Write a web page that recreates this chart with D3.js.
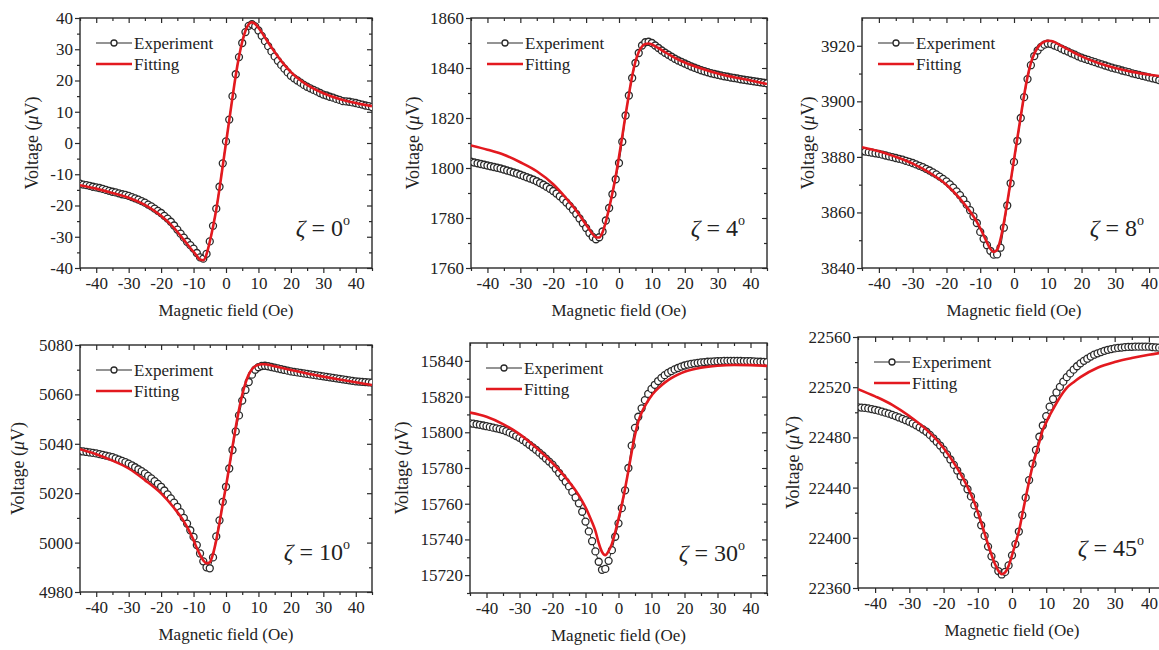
<!DOCTYPE html>
<html>
<head>
<meta charset="utf-8">
<script src="https://cdn.jsdelivr.net/npm/d3@7/dist/d3.min.js"></script>
<style>
body { margin: 0; background: #fff; }
svg text { font-family: "Liberation Serif", "DejaVu Serif", serif; fill: #222; }
</style>
</head>
<body>
<svg id="chart" width="1159" height="650"></svg>
<script>
// field grid of the measurement (Oe), one point per Oe
var expField = d3.range(-45, 46);
var fitField = [-45,-40,-35,-30,-25,-20,-16,-13,-11,-10,-9,-8,-7,-6,-5,-4,-3,-2,-1,0,1,2,3,4,5,6,7,8,9,10,11,12,14,16,18,20,25,30,35,40,45];
var xTicks = [-40,-30,-20,-10,0,10,20,30,40];
var xMinor = [-45,-35,-25,-15,-5,5,15,25,35,45];

// zeta = 0
var exp0 = [-13.0,-13.3,-13.5,-13.7,-14.0,-14.2,-14.4,-14.7,-15.0,-15.3,-15.6,-15.8,-16.1,-16.4,-16.6,-16.9,-17.3,-17.7,-18.1,-18.6,-19.1,-19.7,-20.3,-21.0,-21.7,-22.4,-23.3,-24.2,-25.2,-26.4,-27.7,-29.0,-30.3,-31.6,-32.7,-33.8,-35.2,-36.6,-37.0,-35.5,-31.5,-26.5,-21.0,-14.0,-6.5,
  0.5,7.5,15.0,22.0,27.5,32.0,35.5,37.5,38.0,37.3,36.0,34.3,32.6,31.0,29.3,27.7,26.3,25.0,23.8,22.6,21.5,20.7,20.0,19.3,18.6,18.0,17.5,17.0,16.5,16.0,15.5,15.2,14.8,14.5,14.1,13.8,13.4,13.3,13.2,13.0,12.8,12.5,12.3,12.0,11.8,11.5];
var fit0 = [-13.5,-14.6,-16.0,-17.5,-19.8,-23.3,-27.2,-31.0,-33.6,-34.8,-36.1,-37.3,-37.5,-35.6,-31.6,-26.8,-21.3,-14.6,-7.3,0,7.3,14.6,21.6,27.6,32.4,35.9,38.0,38.6,38.1,36.9,35.4,33.8,30.6,27.7,25.0,22.7,18.6,15.9,14.1,12.8,11.8];
var yTicks0 = [-40,-30,-20,-10,0,10,20,30,40];

// zeta = 4
var exp1 = [1802.5,1802.2,1801.9,1801.6,1801.3,1801.0,1800.7,1800.4,1800.1,1799.8,1799.4,1799.0,1798.6,1798.2,1797.8,1797.3,1796.8,1796.3,1795.8,1795.3,1794.7,1794.0,1793.3,1792.5,1791.7,1790.8,1789.8,1788.7,1787.5,1786.2,1784.8,1783.3,1781.6,1779.8,1777.9,1776.0,1774.0,1772.4,1771.5,1772.3,1774.6,1779.0,1784.0,1789.5,1795.5,
  1802.0,1810.5,1821.0,1829.0,1836.0,1842.0,1846.0,1849.0,1850.3,1850.5,1850.0,1849.0,1848.0,1847.0,1846.1,1845.3,1844.5,1843.7,1843.0,1842.4,1841.8,1841.2,1840.6,1840.1,1839.6,1839.1,1838.7,1838.3,1837.9,1837.6,1837.3,1837.0,1836.7,1836.5,1836.2,1836.0,1835.8,1835.5,1835.3,1835.1,1834.9,1834.7,1834.5,1834.3,1834.1,1833.9,1833.7];
var fit1 = [1809.0,1807.3,1805.3,1802.3,1798.7,1793.5,1787.8,1783.0,1779.2,1777.3,1775.4,1773.6,1772.3,1772.2,1774.3,1778.5,1784.0,1790.0,1796.7,1804.5,1812.7,1821.3,1829.3,1836.8,1842.6,1846.4,1848.6,1849.6,1849.8,1849.4,1848.7,1848.0,1846.3,1844.8,1843.4,1842.2,1839.8,1837.8,1836.3,1835.0,1833.6];
var yTicks1 = [1760,1780,1800,1820,1840,1860];

// zeta = 8
var exp2 = [3882.0,3881.9,3881.7,3881.5,3881.3,3881.1,3880.8,3880.5,3880.2,3879.9,3879.6,3879.3,3879.0,3878.6,3878.2,3877.8,3877.3,3876.8,3876.3,3875.7,3875.1,3874.4,3873.7,3872.9,3872.1,3871.2,3870.1,3868.9,3867.6,3866.2,3864.6,3862.8,3860.8,3858.6,3856.2,3853.0,3850.5,3848.2,3846.2,3844.8,3844.9,3847.3,3854.5,3862.5,3870.5,
  3878.2,3885.8,3894.0,3901.5,3908.0,3913.0,3916.3,3918.3,3919.6,3920.4,3920.8,3920.6,3920.1,3919.6,3919.0,3918.4,3917.9,3917.3,3916.8,3916.2,3915.7,3915.3,3914.9,3914.5,3914.1,3913.7,3913.3,3912.9,3912.5,3912.1,3911.8,3911.5,3911.1,3910.8,3910.5,3910.1,3909.8,3909.5,3909.2,3908.9,3908.6,3908.3,3908.0,3907.6,3907.3,3907.0];
var fit2 = [3883.5,3882.0,3880.0,3877.6,3874.3,3870.0,3865.0,3860.3,3856.6,3854.3,3851.8,3849.2,3846.9,3845.8,3846.5,3850.3,3856.3,3863.5,3871.2,3879.0,3886.8,3894.6,3902.2,3908.8,3913.8,3917.1,3919.3,3920.7,3921.5,3921.8,3921.7,3921.3,3920.0,3918.7,3917.4,3916.2,3913.8,3912.0,3910.6,3909.6,3908.8];
var yTicks2 = [3840,3860,3880,3900,3920];

// zeta = 10
var exp3 = [5037.0,5036.9,5036.7,5036.5,5036.3,5036.1,5035.8,5035.5,5035.2,5034.9,5034.6,5034.1,5033.6,5033.1,5032.6,5032.0,5031.3,5030.5,5029.7,5028.9,5028.0,5027.0,5026.0,5024.9,5023.8,5022.6,5021.1,5019.5,5017.9,5016.2,5014.5,5012.3,5010.0,5007.7,5005.0,5002.3,4999.0,4995.6,4992.4,4990.0,4989.6,4994.0,5002.5,5009.0,5016.5,
  5022.6,5030.0,5037.5,5045.0,5051.5,5057.5,5061.8,5065.0,5068.0,5070.0,5071.0,5071.5,5071.6,5071.4,5071.1,5070.8,5070.5,5070.2,5069.9,5069.6,5069.3,5069.1,5068.9,5068.7,5068.5,5068.3,5068.1,5067.9,5067.7,5067.5,5067.3,5067.1,5066.9,5066.7,5066.5,5066.3,5066.1,5065.9,5065.7,5065.5,5065.3,5065.2,5065.1,5065.0,5064.9,5064.8];
var fit3 = [5037.8,5035.8,5033.2,5030.0,5025.3,5019.9,5014.0,5008.6,5003.9,5001.0,4997.8,4995.0,4992.8,4991.6,4992.0,4995.4,5001.0,5008.0,5015.6,5022.8,5030.7,5038.8,5046.7,5053.8,5059.8,5064.6,5068.0,5070.2,5071.4,5072.0,5072.2,5072.2,5071.7,5071.1,5070.5,5069.9,5068.5,5067.2,5066.0,5064.9,5063.8];
var yTicks3 = [4980,5000,5020,5040,5060,5080];

// zeta = 30
var exp4 = [15805.0,15804.8,15804.5,15804.2,15803.8,15803.4,15803.0,15802.6,15802.2,15801.8,15801.3,15800.6,15799.8,15798.9,15797.9,15796.9,15795.7,15794.4,15793.0,15791.6,15790.2,15788.6,15787.0,15785.3,15783.6,15781.9,15779.6,15777.2,15774.8,15772.3,15769.7,15766.6,15763.5,15760.2,15755.5,15750.0,15744.5,15739.0,15733.3,15727.5,15723.0,15723.5,15728.0,15734.0,15741.5,
  15749.0,15757.5,15767.5,15780.0,15792.5,15802.5,15808.7,15813.4,15818.0,15821.5,15824.3,15826.6,15828.7,15830.5,15832.0,15833.3,15834.3,15835.2,15836.0,15836.8,15837.4,15837.9,15838.3,15838.6,15838.9,15839.1,15839.3,15839.5,15839.6,15839.7,15839.8,15839.9,15840.0,15840.0,15840.0,15840.0,15840.0,15840.0,15839.9,15839.9,15839.8,15839.7,15839.6,15839.5,15839.4,15839.3];
var fit4 = [15811.0,15808.7,15804.6,15799.0,15791.5,15782.8,15774.6,15767.4,15761.5,15758.0,15754.0,15749.6,15744.8,15738.0,15733.0,15731.2,15733.5,15737.5,15744.0,15751.5,15759.5,15768.5,15778.5,15789.0,15798.5,15806.0,15811.0,15814.7,15817.8,15820.5,15822.7,15824.6,15827.8,15830.3,15832.3,15833.9,15836.2,15837.3,15837.7,15837.6,15837.2];
var yTicks4 = [15720,15740,15760,15780,15800,15820,15840];

// zeta = 45
var exp5 = [22504.0,22503.8,22503.5,22503.1,22502.6,22502.0,22501.3,22500.5,22499.7,22498.9,22498.0,22497.0,22495.9,22494.8,22493.7,22492.5,22491.1,22489.6,22488.0,22486.3,22484.5,22482.0,22479.3,22476.5,22473.5,22470.3,22466.5,22462.4,22458.1,22453.6,22449.0,22444.0,22438.7,22433.0,22425.8,22418.6,22410.0,22401.5,22393.0,22385.2,22378.6,22373.5,22370.8,22372.8,22378.0,
  22386.0,22395.0,22405.0,22418.0,22432.0,22446.0,22459.0,22470.0,22480.5,22489.5,22497.0,22504.5,22510.5,22515.8,22520.3,22524.4,22528.0,22531.0,22534.0,22536.7,22539.0,22541.0,22542.7,22544.4,22545.9,22547.0,22548.0,22549.0,22549.8,22550.4,22550.9,22551.3,22551.6,22551.9,22552.1,22552.2,22552.3,22552.3,22552.3,22552.3,22552.3,22552.0,22551.7,22551.5,22551.3,22551.0];
var fit5 = [22518.5,22512.7,22506.0,22497.0,22486.2,22471.6,22455.5,22440.5,22428.2,22420.5,22412.2,22403.5,22394.8,22386.6,22379.3,22373.8,22371.0,22372.5,22377.5,22386.0,22395.5,22405.0,22418.5,22432.0,22445.0,22457.0,22467.0,22476.5,22486.0,22492.0,22497.5,22502.5,22512.0,22519.5,22524.0,22528.0,22535.5,22540.0,22543.2,22545.8,22548.0];
var yTicks5 = [22360,22400,22440,22480,22520,22560];

var panels = [
  {angle: "0",  exp: exp0, fit: fit0, ticks: yTicks0, dom: [-40, 40],      left: 80,  top: 18,  right: 372,  bottom: 268, ytitle: 48},
  {angle: "4",  exp: exp1, fit: fit1, ticks: yTicks1, dom: [1760, 1860],   left: 471, top: 18,  right: 767,  bottom: 268, ytitle: 58},
  {angle: "8",  exp: exp2, fit: fit2, ticks: yTicks2, dom: [3840, 3930],   left: 862, top: 18,  right: 1166, bottom: 268, ytitle: 54},
  {angle: "10", exp: exp3, fit: fit3, ticks: yTicks3, dom: [4980, 5080],   left: 80,  top: 345, right: 372,  bottom: 592, ytitle: 62},
  {angle: "30", exp: exp4, fit: fit4, ticks: yTicks4, dom: [15710, 15850], left: 470, top: 343, right: 767,  bottom: 593, ytitle: 68},
  {angle: "45", exp: exp5, fit: fit5, ticks: yTicks5, dom: [22360, 22560], left: 858, top: 337, right: 1166, bottom: 588, ytitle: 65}
];

var svg = d3.select("#chart");
var red = "#e3191f";
var ink = "#2a2a2a";
var serif = "'Liberation Serif', 'DejaVu Serif', serif";

function styleAxis(sel, size)
{
    sel.attr("font-family", serif);
    sel.select(".domain").remove();
    sel.selectAll("line").attr("stroke", ink).attr("stroke-width", 1.2);
    sel.selectAll("text").attr("font-size", size).style("font-family", serif).attr("fill", "#222");
}

function drawPanel(p, i)
{
    var x = d3.scaleLinear().domain([-45, 45]).range([p.left, p.right]);
    var y = d3.scaleLinear().domain(p.dom).range([p.bottom, p.top]);
    var step = p.ticks[1] - p.ticks[0];
    var yMinor = p.ticks.map(function(d) { return d + step / 2; })
        .filter(function(d) { return d < p.dom[1]; });
    if (p.ticks[0] - step / 2 >= p.dom[0]) yMinor.push(p.ticks[0] - step / 2);
    var fmt = function(d) { return String(d); };
    var g = svg.append("g").style("font-family", serif);

    g.append("clipPath").attr("id", "clip" + i)
      .append("rect")
        .attr("x", p.left).attr("y", p.top)
        .attr("width", p.right - p.left).attr("height", p.bottom - p.top);

    // axes: bottom / left outward, top / right inward
    g.append("g").attr("transform", "translate(0," + p.bottom + ")")
        .call(d3.axisBottom(x).tickValues(xTicks).tickSize(5).tickPadding(4).tickFormat(fmt))
        .call(styleAxis, 17);
    g.append("g").attr("transform", "translate(0," + p.bottom + ")")
        .call(d3.axisBottom(x).tickValues(xMinor).tickSize(3).tickFormat(""))
        .call(styleAxis, 17);
    g.append("g").attr("transform", "translate(0," + p.top + ")")
        .call(d3.axisTop(x).tickValues(xTicks).tickSize(-5).tickFormat(""))
        .call(styleAxis, 17);
    g.append("g").attr("transform", "translate(0," + p.top + ")")
        .call(d3.axisTop(x).tickValues(xMinor).tickSize(-3).tickFormat(""))
        .call(styleAxis, 17);
    g.append("g").attr("transform", "translate(" + p.left + ",0)")
        .call(d3.axisLeft(y).tickValues(p.ticks).tickSize(5).tickPadding(2).tickFormat(fmt))
        .call(styleAxis, 17);
    g.append("g").attr("transform", "translate(" + p.left + ",0)")
        .call(d3.axisLeft(y).tickValues(yMinor).tickSize(3).tickFormat(""))
        .call(styleAxis, 17);
    g.append("g").attr("transform", "translate(" + p.right + ",0)")
        .call(d3.axisRight(y).tickValues(p.ticks).tickSize(-5).tickFormat(""))
        .call(styleAxis, 17);
    g.append("g").attr("transform", "translate(" + p.right + ",0)")
        .call(d3.axisRight(y).tickValues(yMinor).tickSize(-3).tickFormat(""))
        .call(styleAxis, 17);

    g.append("rect")
        .attr("x", p.left).attr("y", p.top)
        .attr("width", p.right - p.left).attr("height", p.bottom - p.top)
        .attr("fill", "none").attr("stroke", ink).attr("stroke-width", 1.4);

    // data
    var plot = g.append("g").attr("clip-path", "url(#clip" + i + ")");
    var expPts = expField.map(function(f, k) { return [f, p.exp[k]]; });
    var fitPts = fitField.map(function(f, k) { return [f, p.fit[k]]; });
    var line = d3.line()
        .x(function(d) { return x(d[0]); })
        .y(function(d) { return y(d[1]); });

    plot.append("path").datum(expPts)
        .attr("d", line)
        .attr("fill", "none").attr("stroke", ink).attr("stroke-width", 1);
    plot.selectAll("circle").data(expPts).enter().append("circle")
        .attr("cx", function(d) { return x(d[0]); })
        .attr("cy", function(d) { return y(d[1]); })
        .attr("r", 3.5)
        .attr("fill", "#fff").attr("stroke", ink).attr("stroke-width", 1.3);
    plot.append("path").datum(fitPts)
        .attr("d", line.curve(d3.curveMonotoneX))
        .attr("fill", "none").attr("stroke", red).attr("stroke-width", 2.6);

    // legend
    var lx = p.left + 16, ly = p.top + 25;
    g.append("line").attr("x1", lx).attr("x2", lx + 36).attr("y1", ly).attr("y2", ly)
        .attr("stroke", ink).attr("stroke-width", 1.2);
    g.append("circle").attr("cx", lx + 18).attr("cy", ly).attr("r", 3)
        .attr("fill", "#fff").attr("stroke", ink).attr("stroke-width", 1.3);
    g.append("text").attr("x", lx + 38).attr("y", ly).attr("dy", "0.35em")
        .attr("font-size", 17).text("Experiment");
    g.append("line").attr("x1", lx).attr("x2", lx + 36).attr("y1", ly + 21).attr("y2", ly + 21)
        .attr("stroke", red).attr("stroke-width", 2.6);
    g.append("text").attr("x", lx + 38).attr("y", ly + 21).attr("dy", "0.35em")
        .attr("font-size", 17).text("Fitting");

    // zeta label
    var z = g.append("text")
        .attr("x", p.right - 22).attr("y", p.bottom - 32)
        .attr("text-anchor", "end").attr("font-size", 24);
    z.append("tspan").attr("font-style", "italic").text("\u03b6");
    z.append("tspan").text(" = " + p.angle);
    z.append("tspan").attr("font-size", 14).attr("dy", -11).text("o");

    // axis titles
    g.append("text")
        .attr("x", (p.left + p.right) / 2).attr("y", p.bottom + 48)
        .attr("text-anchor", "middle").attr("font-size", 17)
        .text("Magnetic field (Oe)");
    var yt = g.append("text")
        .attr("transform", "translate(" + (p.left - p.ytitle) + "," + ((p.top + p.bottom) / 2) + ") rotate(-90)")
        .attr("text-anchor", "middle").attr("dy", "0.35em").attr("font-size", 18);
    yt.append("tspan").text("Voltage (");
    yt.append("tspan").attr("font-style", "italic").text("\u03bc");
    yt.append("tspan").text("V)");
}

panels.forEach(drawPanel);
</script>
</body>
</html>
